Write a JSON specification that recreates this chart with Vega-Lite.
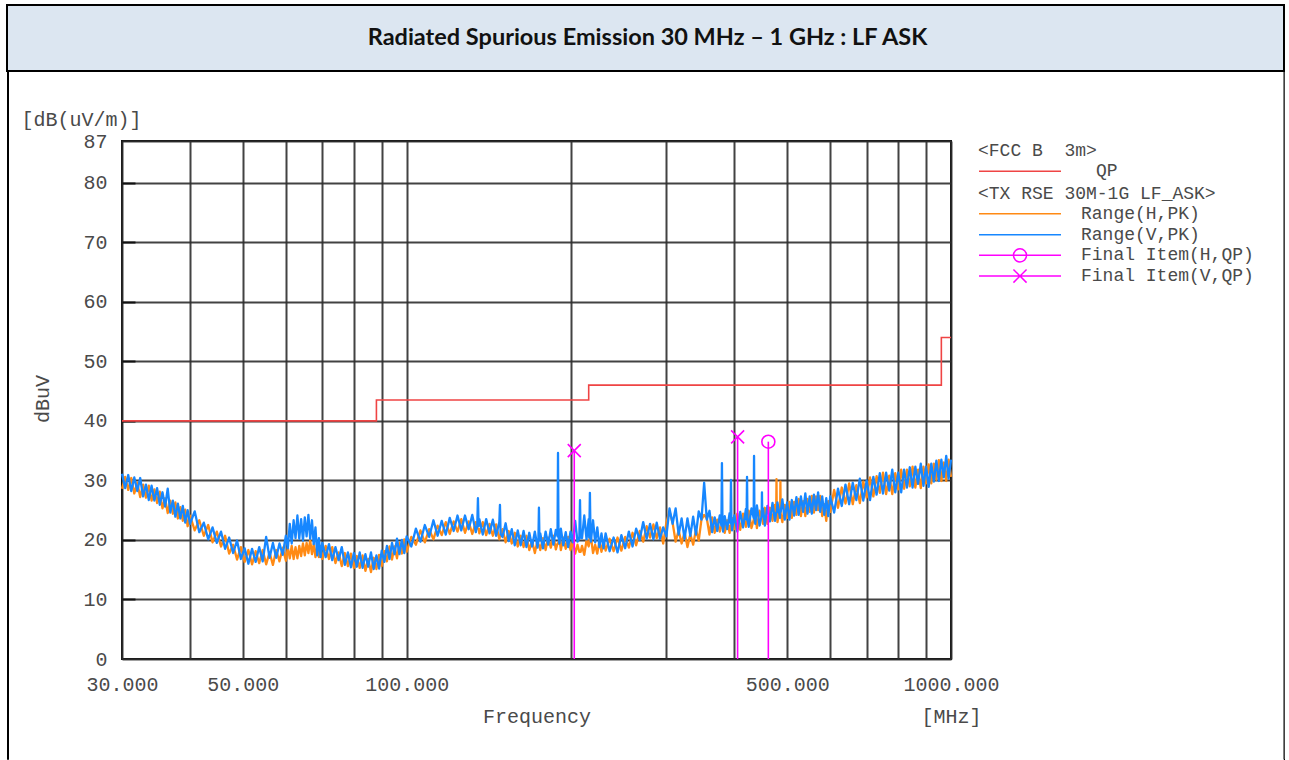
{
  "$schema": "https://vega.github.io/schema/vega-lite/v6.json",
  "padding": {"left": 6, "top": 4, "right": 0, "bottom": 0},
  "background": "white",
  "bounds": "flush",
  "spacing": 0,
  "config": {
    "view": {"stroke": null},
    "axis": {"labelFont": "Liberation Mono", "labelFontSize": 20, "labelColor": "#4a4a4a", "titleFont": "Liberation Mono", "titleFontSize": 20, "titleFontWeight": "normal", "titleColor": "#4a4a4a"},
    "legend": {"labelFont": "Liberation Mono", "labelFontSize": 18, "labelColor": "#4a4a4a", "titleFont": "Liberation Mono", "titleFontSize": 18, "titleFontWeight": "normal", "titleColor": "#4a4a4a", "labelLimit": 400, "titleLimit": 400, "padding": 0, "rowPadding": 0, "clipHeight": 20.7, "symbolOffset": 0, "titlePadding": 1}
  },
  "datasets": {
    "traces": [
      {"f":30,"H":28.6,"V":31.1},{"f":30.4,"H":30.6,"V":28.7},{"f":30.8,"H":28.4,"V":30.9},{"f":31.2,"H":30.4,"V":28.2},
      {"f":31.6,"H":27.8,"V":30.5},{"f":32,"H":29.6,"V":28.2},{"f":32.4,"H":27.2,"V":30.4},{"f":32.8,"H":29.3,"V":27.3},
      {"f":33.2,"H":27.1,"V":29.3},{"f":33.6,"H":29.1,"V":26.7},{"f":34,"H":26.6,"V":29.1},{"f":34.4,"H":28.5,"V":26.6},
      {"f":34.8,"H":26.2,"V":28.7},{"f":35.2,"H":28.1,"V":25.9},{"f":35.6,"H":25.3,"V":28.0},{"f":36,"H":27.0,"V":25.6},
      {"f":36.4,"H":24.5,"V":28.6},{"f":36.8,"H":26.6,"V":24.6},{"f":37.2,"H":24.4,"V":26.6},{"f":37.6,"H":26.3,"V":23.9},
      {"f":38,"H":23.6,"V":26.1},{"f":38.4,"H":25.5,"V":23.6},{"f":38.8,"H":23.2,"V":25.7},{"f":39.2,"H":25.1,"V":22.9},
      {"f":39.6,"H":22.3,"V":25.0},{"f":40,"H":24.1,"V":22.7},
      {"f":40.8,"H":21.6,"V":24.8},{"f":41.6,"H":23.3,"V":21.3},{"f":42.4,"H":20.7,"V":22.9},{"f":43.2,"H":22.5,"V":20.1},
      {"f":44,"H":19.6,"V":22.1},{"f":44.8,"H":21.4,"V":19.5},{"f":45.6,"H":18.9,"V":21.4},{"f":46.4,"H":20.7,"V":18.5},
      {"f":47.2,"H":17.7,"V":20.4},{"f":48,"H":19.2,"V":17.8},{"f":48.8,"H":16.7,"V":19.9},{"f":49.6,"H":18.8,"V":16.8},
      {"f":50.4,"H":16.3,"V":18.6},{"f":51.2,"H":18.3,"V":16.0},{"f":52,"H":15.9,"V":18.5},{"f":52.8,"H":18.1,"V":16.3},
      {"f":53.6,"H":16.1,"V":18.8},{"f":54.4,"H":18.3,"V":16.4},{"f":55.2,"H":15.9,"V":20.5},{"f":56,"H":17.9,"V":17.0},
      {"f":56.8,"H":15.8,"V":19.5},{"f":57.6,"H":18.3,"V":17.0},{"f":58.4,"H":16.4,"V":19.4},{"f":59.2,"H":18.7,"V":17.5},
      {"f":60,"H":16.5,"V":20.7},
      {"f":60.5,"H":18.7,"V":18.6},{"f":61,"H":16.9,"V":22.7},{"f":61.5,"H":19.0,"V":19.4},{"f":62,"H":16.8,"V":23.3},
      {"f":62.5,"H":18.8,"V":20.3},{"f":63,"H":16.9,"V":24.1},{"f":63.5,"H":19.0,"V":20.2},{"f":64,"H":17.3,"V":23.5},
      {"f":64.5,"H":19.4,"V":19.9},{"f":65,"H":17.4,"V":23.8},{"f":65.5,"H":19.5,"V":20.6},{"f":66,"H":17.8,"V":24.2},
      {"f":66.5,"H":19.9,"V":20.2},{"f":67,"H":17.6,"V":23.3},{"f":67.5,"H":19.3,"V":19.3},{"f":68,"H":17.1,"V":22.1},
      {"f":68.5,"H":19.0,"V":17.4},{"f":69,"H":17.1,"V":20.3},{"f":69.5,"H":19.0,"V":17.1},{"f":70,"H":16.8,"V":19.5},
      {"f":71,"H":19.0,"V":17.1},{"f":72,"H":16.8,"V":19.3},{"f":73,"H":18.8,"V":16.6},{"f":74,"H":16.1,"V":18.8},
      {"f":75,"H":17.9,"V":16.6},{"f":76,"H":15.6,"V":18.8},{"f":77,"H":17.8,"V":15.8},{"f":78,"H":15.6,"V":17.9},
      {"f":79,"H":17.7,"V":15.4},{"f":80,"H":15.3,"V":17.8},{"f":81,"H":17.3,"V":15.5},{"f":82,"H":15.3,"V":17.9},
      {"f":83,"H":17.4,"V":15.3},{"f":84,"H":14.8,"V":17.6},{"f":85,"H":16.8,"V":15.5},{"f":86,"H":14.6,"V":17.9},
      {"f":87,"H":17.0,"V":15.1},{"f":88,"H":15.1,"V":17.4},{"f":89,"H":17.5,"V":15.2},{"f":90,"H":15.6,"V":18.2},
      {"f":91,"H":18.1,"V":16.3},{"f":92,"H":16.4,"V":19.0},{"f":93,"H":18.9,"V":16.8},{"f":94,"H":16.7,"V":19.5},
      {"f":95,"H":18.9,"V":17.6},{"f":96,"H":16.9,"V":20.2},{"f":97,"H":19.5,"V":17.6},{"f":98,"H":17.7,"V":20.0},
      {"f":99,"H":20.1,"V":17.8},{"f":100,"H":18.0,"V":20.6},
      {"f":102,"H":20.5,"V":18.9},{"f":104,"H":19.2,"V":21.9},{"f":106,"H":21.6,"V":19.7},{"f":108,"H":19.6,"V":22.5},
      {"f":110,"H":21.8,"V":20.5},{"f":112,"H":20.1,"V":23.3},{"f":114,"H":22.4,"V":20.7},{"f":116,"H":20.8,"V":23.2},
      {"f":118,"H":23.0,"V":20.9},{"f":120,"H":21.0,"V":23.7},{"f":122,"H":23.1,"V":21.5},{"f":124,"H":21.4,"V":24.1},
      {"f":126,"H":23.5,"V":21.6},{"f":128,"H":21.2,"V":24.1},{"f":130,"H":23.1,"V":21.8},{"f":132,"H":21.0,"V":24.2},
      {"f":134,"H":23.0,"V":21.3},{"f":134.8,"H":22.0,"V":22.4},{"f":135.2,"H":21.9,"V":27.0},{"f":135.6,"H":21.9,"V":22.3},
      {"f":136,"H":21.1,"V":23.5},{"f":138,"H":23.0,"V":20.9},{"f":140,"H":20.8,"V":23.5},{"f":142,"H":22.7,"V":21.1},
      {"f":144,"H":20.7,"V":23.4},{"f":146,"H":22.6,"V":20.7},{"f":148,"H":20.1,"V":23.0},{"f":148.4,"H":20.6,"V":25.9},
      {"f":148.8,"H":20.8,"V":21.0},{"f":150,"H":21.8,"V":20.5},{"f":152,"H":19.6,"V":22.8},{"f":154,"H":21.5,"V":19.8},
      {"f":156,"H":19.4,"V":21.8},{"f":158,"H":21.2,"V":19.1},{"f":160,"H":18.9,"V":21.6},{"f":162,"H":20.7,"V":19.1},
      {"f":164,"H":18.8,"V":21.5},{"f":166,"H":20.7,"V":18.8},{"f":168,"H":18.3,"V":21.2},{"f":170,"H":19.8,"V":18.9},
      {"f":172,"H":17.8,"V":21.4},{"f":174,"H":20.0,"V":18.7},{"f":174.6,"H":19.1,"V":19.9},{"f":175,"H":19.1,"V":25.4},
      {"f":175.4,"H":19.1,"V":20.0},{"f":176,"H":18.3,"V":21.1},{"f":178,"H":20.3,"V":18.6},{"f":180,"H":18.3,"V":21.4},
      {"f":182,"H":20.4,"V":19.2},{"f":184,"H":18.7,"V":21.8},{"f":186,"H":20.7,"V":19.2},{"f":188,"H":18.4,"V":21.7},
      {"f":189.3,"H":19.4,"V":20.6},{"f":189.7,"H":19.4,"V":34.6},{"f":190.1,"H":19.4,"V":20.6},{"f":190.8,"H":20.3,"V":19.4},
      {"f":192,"H":18.3,"V":21.9},{"f":194,"H":20.4,"V":19.1},{"f":196,"H":18.5,"V":21.3},{"f":198,"H":20.5,"V":18.8},
      {"f":200,"H":18.3,"V":21.4},
      {"f":202,"H":19.8,"V":19.6},{"f":204,"H":17.7,"V":23.2},{"f":206,"H":19.2,"V":19.7},{"f":207.6,"H":18.0,"V":20.2},
      {"f":208.2,"H":18.0,"V":26.7},{"f":208.8,"H":18.0,"V":20.4},{"f":210,"H":19.0,"V":20.3},{"f":212,"H":17.5,"V":24.1},
      {"f":214,"H":19.9,"V":20.1},{"f":216,"H":18.9,"V":23.5},{"f":216.5,"H":19.6,"V":20.4},{"f":217.1,"H":20.8,"V":27.9},
      {"f":217.7,"H":19.6,"V":20.6},{"f":218,"H":20.5,"V":19.7},{"f":220,"H":17.8,"V":23.3},{"f":222,"H":19.2,"V":19.6},
      {"f":224,"H":17.7,"V":22.1},{"f":226,"H":19.8,"V":18.8},{"f":228,"H":18.0,"V":21.1},{"f":230,"H":19.9,"V":18.6},
      {"f":232,"H":18.2,"V":21.1},
      {"f":236,"H":20.2,"V":18.1},{"f":240,"H":18.1,"V":20.4},{"f":244,"H":20.4,"V":17.9},{"f":248,"H":18.2,"V":20.8},
      {"f":252,"H":20.5,"V":18.6},{"f":256,"H":18.7,"V":21.4},{"f":260,"H":21.2,"V":18.9},{"f":264,"H":19.1,"V":21.9},
      {"f":268,"H":21.5,"V":20.0},{"f":272,"H":19.7,"V":23.0},{"f":276,"H":22.3,"V":20.2},{"f":280,"H":20.4,"V":22.7},
      {"f":284,"H":22.6,"V":20.1},{"f":288,"H":20.3,"V":22.9},{"f":292,"H":22.1,"V":20.2},{"f":296,"H":19.4,"V":22.1},
      {"f":300,"H":22.9,"V":20.6},{"f":304,"H":24.8,"V":25.3},{"f":308,"H":22.9,"V":22.7},{"f":312,"H":19.7,"V":25.3},
      {"f":316,"H":21.6,"V":20.9},{"f":320,"H":19.4,"V":23.6},{"f":324,"H":21.3,"V":20.2},{"f":328,"H":18.8,"V":23.6},
      {"f":332,"H":21.0,"V":20.7},{"f":336,"H":19.2,"V":23.9},{"f":340,"H":21.7,"V":20.9},{"f":344,"H":19.9,"V":24.8},
      {"f":348,"H":23.4,"V":23.4},{"f":352,"H":24.2,"V":29.6},{"f":356,"H":23.6,"V":23.4},{"f":360,"H":20.9,"V":24.9},
      {"f":364,"H":23.8,"V":21.3},{"f":368,"H":21.2,"V":23.8},{"f":372,"H":23.4,"V":21.5},{"f":376,"H":21.4,"V":24.1},
      {"f":378.6,"H":22.3,"V":22.4},{"f":379.5,"H":22.3,"V":32.9},{"f":380.4,"H":22.3,"V":22.4},{"f":381.4,"H":23.7,"V":21.4},
      {"f":384,"H":21.2,"V":24.0},{"f":388,"H":23.3,"V":21.8},{"f":392,"H":21.2,"V":24.5},{"f":393.5,"H":22.5,"V":22.8},
      {"f":394.3,"H":22.5,"V":30.1},{"f":395.1,"H":22.5,"V":22.8},{"f":396,"H":23.7,"V":21.6},{"f":400,"H":21.8,"V":24.1},
      {"f":405,"H":24.4,"V":21.4},{"f":410,"H":21.7,"V":24.7},{"f":415,"H":24.4,"V":22.1},{"f":420,"H":22.2,"V":25.2},
      {"f":421.2,"H":23.1,"V":23.4},{"f":422,"H":23.1,"V":30.6},{"f":422.8,"H":23.1,"V":23.4},{"f":425,"H":24.9,"V":22.2},
      {"f":430,"H":22.0,"V":25.3},{"f":434,"H":23.4,"V":23.7},{"f":434.7,"H":23.4,"V":34.1},{"f":435.4,"H":23.4,"V":23.7},
      {"f":437,"H":24.5,"V":22.7},{"f":440,"H":22.0,"V":25.8},{"f":445,"H":24.9,"V":22.4},{"f":448.9,"H":23.7,"V":24.0},
      {"f":449.5,"H":23.7,"V":28.0},{"f":450.1,"H":23.7,"V":24.0},{"f":451.5,"H":22.7,"V":25.3},{"f":455,"H":25.4,"V":22.4},
      {"f":460,"H":22.7,"V":25.7},{"f":465,"H":25.4,"V":23.1},{"f":470,"H":23.2,"V":26.2},{"f":475,"H":25.9,"V":23.2},
      {"f":477.4,"H":24.5,"V":24.6},{"f":478,"H":30.2,"V":24.6},{"f":478.6,"H":24.5,"V":24.6},{"f":480,"H":23.0,"V":26.3},
      {"f":485,"H":25.5,"V":23.7},{"f":485.4,"H":24.4,"V":24.7},{"f":486,"H":29.8,"V":24.7},{"f":486.6,"H":24.4,"V":24.7},
      {"f":490,"H":23.0,"V":26.8},{"f":495,"H":25.9,"V":23.4},{"f":500,"H":23.7,"V":26.3},{"f":505,"H":26.4,"V":23.4},
      {"f":510,"H":23.7,"V":26.7},{"f":515,"H":26.4,"V":24.1},{"f":520,"H":24.2,"V":27.2},{"f":525,"H":26.9,"V":24.2},
      {"f":530,"H":24.0,"V":27.3},{"f":535,"H":26.5,"V":24.7},{"f":540,"H":24.0,"V":27.8},{"f":545,"H":26.9,"V":24.4},
      {"f":550,"H":24.7,"V":27.3},{"f":555,"H":27.4,"V":24.4},{"f":560,"H":24.6,"V":27.6},{"f":565,"H":27.3,"V":25.0},
      {"f":570,"H":25.0,"V":28.0},{"f":575,"H":27.4,"V":24.7},{"f":580,"H":24.0,"V":27.3},{"f":585,"H":26.0,"V":24.2},
      {"f":590,"H":23.2,"V":27.0},{"f":595,"H":26.5,"V":24.0},{"f":600,"H":24.7,"V":27.3},
      {"f":610,"H":28.4,"V":24.6},{"f":620,"H":25.4,"V":28.6},{"f":630,"H":28.8,"V":25.7},{"f":640,"H":26.1,"V":29.3},
      {"f":650,"H":29.5,"V":26.0},{"f":660,"H":26.0,"V":29.6},{"f":670,"H":29.2,"V":26.7},{"f":680,"H":26.2,"V":30.3},
      {"f":690,"H":29.8,"V":26.6},{"f":700,"H":27.1,"V":30.0},{"f":710,"H":30.5,"V":26.7},{"f":720,"H":27.3,"V":30.6},
      {"f":730,"H":30.7,"V":27.6},{"f":740,"H":27.9,"V":31.2},{"f":750,"H":31.3,"V":27.8},{"f":760,"H":27.7,"V":31.3},
      {"f":770,"H":30.8,"V":28.3},{"f":780,"H":27.7,"V":31.8},{"f":790,"H":31.2,"V":28.0},{"f":800,"H":28.5,"V":31.3},
      {"f":810,"H":31.8,"V":28.0},{"f":820,"H":28.6,"V":31.8},{"f":830,"H":31.8,"V":28.8},{"f":840,"H":29.0,"V":32.2},
      {"f":850,"H":32.3,"V":28.8},{"f":860,"H":28.8,"V":32.3},{"f":870,"H":31.8,"V":29.4},{"f":880,"H":28.7,"V":32.8},
      {"f":890,"H":32.3,"V":29.1},{"f":900,"H":29.5,"V":32.3},{"f":910,"H":32.7,"V":28.9},{"f":920,"H":29.5,"V":32.8},
      {"f":930,"H":32.8,"V":29.8},{"f":940,"H":30.1,"V":33.3},{"f":950,"H":33.4,"V":29.9},{"f":960,"H":29.9,"V":33.5},
      {"f":970,"H":33.0,"V":30.5},{"f":980,"H":29.9,"V":34.1},{"f":990,"H":33.5,"V":30.3},{"f":1000,"H":30.6,"V":33.5}
    ],
    "limit": [
      {"f":30,"l":40},{"f":88,"l":43.5},{"f":216,"l":46},{"f":960,"l":54},{"f":1000,"l":54}
    ],
    "finalH": [
      {"f":461.8,"q":36.5}
    ],
    "finalV": [
      {"f":203.2,"q":35.0},
      {"f":405.5,"q":37.3}
    ],
    "blank": [{}]
  },
  "vconcat": [
    {
      "width": 1277,
      "height": 66,
      "view": {"fill": "#dce6f1", "stroke": "#000000", "strokeWidth": 2},
      "data": {"values": [{"t": "Radiated Spurious Emission 30 MHz – 1 GHz : LF ASK"}]},
      "mark": {"type": "text", "font": "Lato", "fontSize": 23.5, "fontWeight": "bold", "color": "#111111", "dx": 2},
      "encoding": {"text": {"field": "t", "type": "nominal"}}
    },
    {
      "bounds": "flush",
      "spacing": 1276.5,
      "hconcat": [
        {
          "bounds": "flush",
          "spacing": 114,
          "hconcat": [
            {
              "width": 1,
              "height": 688,
              "view": {"stroke": "#000000", "strokeWidth": 1},
              "data": {"name": "blank"},
              "mark": {"type": "text", "text": " "},
              "encoding": {}
            },
            {
              "bounds": "flush",
              "spacing": 69,
              "vconcat": [
                {
                  "width": 829,
                  "height": 1,
                  "data": {"name": "blank"},
                  "mark": {"type": "text", "text": " "},
                  "encoding": {}
                },
                {
                  "width": 829,
                  "height": 518,
                  "view": {"stroke": "#111111", "strokeWidth": 2},
                  "layer": [
                    {
                      "data": {"name": "limit"},
                      "mark": {"type": "line", "interpolate": "step-after", "strokeWidth": 1.6},
                      "encoding": {
                        "x": {
                          "field": "f", "type": "quantitative",
                          "scale": {"type": "log", "domain": [30, 1000], "nice": false},
                          "axis": {
                            "orient": "bottom",
                            "values": [30,40,50,60,70,80,90,100,200,300,400,500,600,700,800,900,1000],
                            "labelExpr": "indexof([30,50,100,500,1000], datum.value) >= 0 ? format(datum.value, '.3f') : ''",
                            "grid": true, "gridColor": "#2e2e2e", "gridWidth": 2, "gridOpacity": 0.9,
                            "ticks": false, "tickSize": 0, "domain": false,
                            "labelPadding": 15, "labelFlush": false, "labelOverlap": false, "labelBound": false,
                            "title": "Frequency", "titleX": 414.5, "titleY": 57, "titleAlign": "center", "titleBaseline": "middle"
                          }
                        },
                        "y": {
                          "field": "l", "type": "quantitative",
                          "scale": {"domain": [0, 87], "nice": false, "zero": false},
                          "axis": {
                            "orient": "left",
                            "values": [0,10,20,30,40,50,60,70,80,87],
                            "grid": true, "gridColor": "#2e2e2e", "gridWidth": 2, "gridOpacity": 0.9,
                            "ticks": false, "tickSize": 0, "domain": false,
                            "labelPadding": 15, "labelFlush": false, "labelOverlap": false,
                            "title": "dBuV", "titleFontSize": 20, "titleAngle": 270,
                            "titleX": -79.5, "titleY": 257.5, "titleAlign": "center", "titleBaseline": "middle"
                          }
                        },
                        "color": {
                          "datum": "QP", "type": "nominal",
                          "scale": {"domain": ["QP"], "range": ["#ef4444"]},
                          "legend": {
                            "orient": "none", "legendX": 856, "legendY": 1, "direction": "vertical",
                            "title": "<FCC B\u00a0 3m>",
                            "labelOffset": 34,
                            "symbolType": "stroke", "symbolSize": 6724, "symbolStrokeWidth": 1.5
                          }
                        }
                      }
                    },
                    {
                      "data": {"name": "traces"},
                      "transform": [{"fold": ["H", "V"], "as": ["s", "val"]}],
                      "mark": {"type": "line", "strokeWidth": 2.3, "strokeJoin": "round"},
                      "encoding": {
                        "x": {
                          "field": "f", "type": "quantitative",
                          "scale": {"type": "log", "domain": [30, 1000], "nice": false},
                          "axis": {
                            "orient": "bottom", "grid": false, "ticks": false, "tickSize": 0, "labels": false, "domain": false,
                            "title": "[MHz]", "titleX": 829, "titleY": 57, "titleAlign": "center", "titleBaseline": "middle"
                          }
                        },
                        "y": {
                          "field": "val", "type": "quantitative",
                          "scale": {"domain": [0, 87], "nice": false, "zero": false},
                          "axis": {
                            "orient": "left", "offset": -13,
                            "values": [10,20,30,40,50,60,70,80],
                            "ticks": true, "tickSize": 13, "tickWidth": 2, "tickColor": "#111111",
                            "labels": false, "domain": false, "grid": false,
                            "title": "[dB(uV/m)]", "titleAngle": 0, "titleX": -114, "titleY": -21.5,
                            "titleAlign": "left", "titleBaseline": "middle"
                          }
                        },
                        "color": {
                          "field": "s", "type": "nominal",
                          "scale": {"domain": ["H", "V"], "range": ["#ff8a14", "#1787ff"]},
                          "legend": {
                            "orient": "none", "legendX": 856, "legendY": 43.5, "direction": "vertical",
                            "title": "<TX RSE 30M-1G LF_ASK>",
                            "labelOffset": 19,
                            "labelExpr": "datum.label == 'H' ? 'Range(H,PK)' : 'Range(V,PK)'",
                            "symbolType": "stroke", "symbolSize": 6724, "symbolStrokeWidth": 1.5
                          }
                        }
                      }
                    },
                    {
                      "data": {"name": "finalH"},
                      "layer": [
                        {
                          "mark": {"type": "rule", "strokeWidth": 1.6},
                          "encoding": {
                            "x": {"field": "f", "type": "quantitative", "scale": {"type": "log", "domain": [30, 1000], "nice": false}, "axis": null},
                            "y": {
                              "field": "q", "type": "quantitative",
                              "scale": {"domain": [0, 87], "nice": false, "zero": false},
                              "axis": {
                                "orient": "left", "offset": -7,
                                "values": [2,4,6,8,12,14,16,18,22,24,26,28,32,34,36,38,42,44,46,48,52,54,56,58,62,64,66,68,72,74,76,78,82,84,86],
                                "ticks": true, "tickSize": 7, "tickWidth": 1.5, "tickColor": "#111111",
                                "labels": false, "domain": false, "grid": false, "title": null
                              }
                            },
                            "y2": {"datum": 0},
                            "color": {
                              "datum": "Final Item(H,QP)", "type": "nominal",
                              "scale": {"domain": ["Final Item(H,QP)"], "range": ["#ff00ff"]},
                              "legend": {
                                "orient": "none", "legendX": 856, "legendY": 104, "direction": "vertical",
                                "title": null,
                                "labelOffset": 19,
                                "symbolType": "M-1,0H1M0.16,0A0.16,0.16 0 1,1 -0.16,0A0.16,0.16 0 1,1 0.16,0",
                                "symbolSize": 6724, "symbolStrokeWidth": 1.5, "symbolFillColor": "transparent"
                              }
                            }
                          }
                        },
                        {
                          "mark": {"type": "point", "shape": "circle", "filled": false, "size": 169, "strokeWidth": 1.6, "opacity": 1},
                          "encoding": {
                            "x": {"field": "f", "type": "quantitative", "scale": {"type": "log", "domain": [30, 1000], "nice": false}, "axis": null},
                            "y": {"field": "q", "type": "quantitative", "scale": {"domain": [0, 87], "nice": false, "zero": false}, "axis": null},
                            "color": {"datum": "Final Item(H,QP)", "type": "nominal", "legend": null}
                          }
                        }
                      ]
                    },
                    {
                      "data": {"name": "finalV"},
                      "layer": [
                        {
                          "mark": {"type": "rule", "strokeWidth": 1.6},
                          "encoding": {
                            "x": {"field": "f", "type": "quantitative", "scale": {"type": "log", "domain": [30, 1000], "nice": false}, "axis": null},
                            "y": {"field": "q", "type": "quantitative", "scale": {"domain": [0, 87], "nice": false, "zero": false}, "axis": null},
                            "y2": {"datum": 0},
                            "color": {
                              "datum": "Final Item(V,QP)", "type": "nominal",
                              "scale": {"domain": ["Final Item(V,QP)"], "range": ["#ff00ff"]},
                              "legend": {
                                "orient": "none", "legendX": 856, "legendY": 124.7, "direction": "vertical",
                                "title": null,
                                "labelOffset": 19,
                                "symbolType": "M-1,0H1M-0.16,-0.16L0.16,0.16M-0.16,0.16L0.16,-0.16",
                                "symbolSize": 6724, "symbolStrokeWidth": 1.5, "symbolFillColor": "transparent"
                              }
                            }
                          }
                        },
                        {
                          "mark": {"type": "point", "shape": "M-1,-1L1,1M-1,1L1,-1", "filled": false, "size": 169, "strokeWidth": 1.6, "opacity": 1},
                          "encoding": {
                            "x": {"field": "f", "type": "quantitative", "scale": {"type": "log", "domain": [30, 1000], "nice": false}, "axis": null},
                            "y": {"field": "q", "type": "quantitative", "scale": {"domain": [0, 87], "nice": false, "zero": false}, "axis": null},
                            "color": {"datum": "Final Item(V,QP)", "type": "nominal", "legend": null}
                          }
                        }
                      ]
                    }
                  ],
                  "resolve": {"scale": {"color": "independent"}, "axis": {"x": "independent", "y": "independent"}}
                }
              ]
            }
          ]
        },
        {
          "width": 1,
          "height": 688,
          "view": {"stroke": "#000000", "strokeWidth": 1},
          "data": {"name": "blank"},
          "mark": {"type": "text", "text": " "},
          "encoding": {}
        }
      ]
    }
  ]
}
